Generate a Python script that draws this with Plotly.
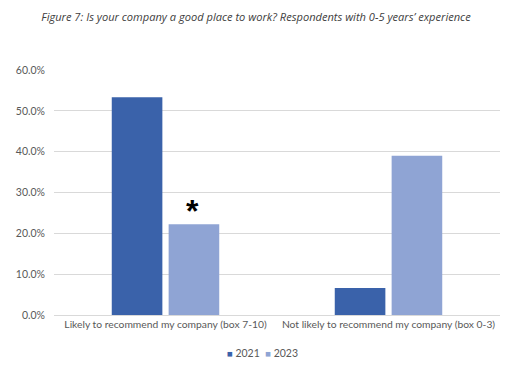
import plotly.graph_objects as go

categories = ["Likely to recommend my company (box 7-10)", "Not likely to recommend my company (box 0-3)"]
series_names = ["2021", "2023"]
values_2021 = [0.533, 0.066]
values_2023 = [0.222, 0.390]
tick_vals = [0, 0.1, 0.2, 0.3, 0.4, 0.5, 0.6]
tick_text = ["0.0%", "10.0%", "20.0%", "30.0%", "40.0%", "50.0%", "60.0%"]
title_text = "Figure 7: Is your company a good place to work? Respondents with 0-5 years\u2019 experience"
colors = ["#3A62AA", "#8FA4D4"]

fig = go.Figure()
fig.add_trace(go.Bar(name=series_names[0], x=categories, y=values_2021, marker_color=colors[0],
                     marker_line_width=0, hoverinfo="y"))
fig.add_trace(go.Bar(name=series_names[1], x=categories, y=values_2023, marker_color=colors[1],
                     marker_line_width=0, hoverinfo="y"))

# significance marker above the 2023 bar of the first category
fig.add_annotation(x=categories[0], y=values_2023[0], xshift=27, yshift=-7, text="<b>*</b>",
                   showarrow=False, yanchor="bottom", font=dict(size=32, color="#000000", family="Liberation Sans"))

# compact legend (small squares next to the labels, as in the source)
legend_text = (
    f"<span style='color:{colors[0]};font-size:9.5px'>\u25A0</span> {series_names[0]}  "
    f"<span style='color:{colors[1]};font-size:9.5px'>\u25A0</span> {series_names[1]}"
)
fig.add_annotation(x=0.4686, y=-0.155, xref="paper", yref="paper", text=legend_text, showarrow=False,
                   xanchor="center", yanchor="middle", font=dict(family="Lato", size=10.5, color="#595959"))

# the page has an 8px body margin, so the figure is sized to fit the 526x372 window
fig.update_layout(
    width=518, height=364,
    paper_bgcolor="white", plot_bgcolor="white",
    margin=dict(l=46, r=26, t=62, b=57, autoexpand=False),
    barmode="group", bargap=0.49, bargroupgap=0.11,
    title=dict(text="<i>" + title_text + "</i>", x=248 / 518, xanchor="center", xref="container",
               y=1 - 9 / 364, yanchor="middle", yref="container",
               font=dict(family="Open Sans", size=11.1, color="#404040")),
    font=dict(family="Lato", size=10, color="#595959"),
    showlegend=False,
)
fig.update_yaxes(range=[0, 0.6], tickvals=tick_vals, ticktext=tick_text, showgrid=True,
                 gridcolor="#D9D9D9", gridwidth=1, zeroline=False, showline=False, ticks="",
                 ticklabelstandoff=8, tickfont=dict(size=10.5))
fig.update_xaxes(showline=True, linecolor="#D9D9D9", linewidth=1, ticks="", showgrid=False,
                 tickfont=dict(size=10.3))

fig.write_html("out.html")
